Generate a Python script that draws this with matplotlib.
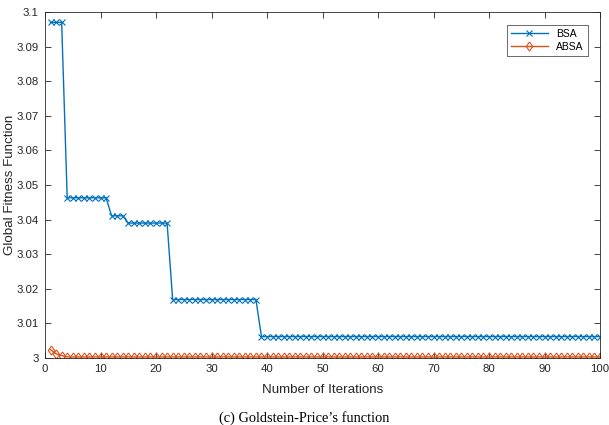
import numpy as np
import matplotlib.pyplot as plt

plt.rcParams['font.family'] = ['Liberation Sans', 'DejaVu Sans']

# BSA best fitness per iteration (piecewise plateaus)
bsa_levels = [3.0970, 3.0463, 3.0411, 3.0390, 3.0169, 3.0062]
bsa_counts = [3, 8, 3, 8, 16, 62]
# ABSA: first few iterations then flat
absa_start = [3.0024, 3.0012, 3.0007]
absa_rest = 3.0003
n_iter = 100

iters = np.arange(1, n_iter + 1)
bsa = np.repeat(bsa_levels, bsa_counts)
absa = np.array(absa_start + [absa_rest] * (n_iter - len(absa_start)))

BLUE = '#0072BD'
ORANGE = '#D95319'
DARK = '#262626'

# MATLAB-like diamond, a bit taller than wide
diamond = [(0, 1), (0.72, 0), (0, -1), (-0.72, 0), (0, 1)]

fig = plt.figure(figsize=(6.09, 4.25), dpi=100)
ax = fig.add_axes([45 / 609, 1 - 358 / 425, 555 / 609, 346 / 425])

ax.plot(iters, bsa, '-', color=BLUE, linewidth=1.0, marker='x',
        markersize=4.5, markeredgewidth=0.8, label='BSA')
ax.plot(iters, absa, '-', color=ORANGE, linewidth=1.0, marker=diamond,
        markersize=6.5, markerfacecolor='none', markeredgewidth=0.8, label='ABSA')

ax.set_xlim(0, 100)
ax.set_ylim(3, 3.1)
ax.set_xticks(np.arange(0, 101, 10))
ax.set_yticks(np.round(np.arange(3, 3.1001, 0.01), 2))
ax.set_yticklabels(['3'] + [f'{v:.2f}'.rstrip('0') for v in np.arange(3.01, 3.1001, 0.01)])
ax.tick_params(direction='in', top=True, right=True, length=4, width=0.6,
               labelsize=8.2, colors=DARK, pad=4.5)
for s in ax.spines.values():
    s.set_linewidth(0.6)
    s.set_color(DARK)

ax.set_xlabel('Number of Iterations', fontsize=9.6, color=DARK, labelpad=7)
ax.set_ylabel('Global Fitness Function', fontsize=9.6, color=DARK)
ax.yaxis.set_label_coords(-29 / 555, 0.5)

leg = ax.legend(loc='upper right', fontsize=7.5, frameon=True, fancybox=False,
                borderaxespad=1.2, handlelength=3.5, borderpad=0.4, labelspacing=0.3)
leg.get_frame().set_edgecolor(DARK)
leg.get_frame().set_linewidth(0.6)

fig.text(0.5, 1 - 421.5 / 425, "(c) Goldstein-Price\u2019s function", ha='center', va='baseline',
         fontsize=10.4, family='Liberation Serif')

fig.savefig('out.png', dpi=100)
